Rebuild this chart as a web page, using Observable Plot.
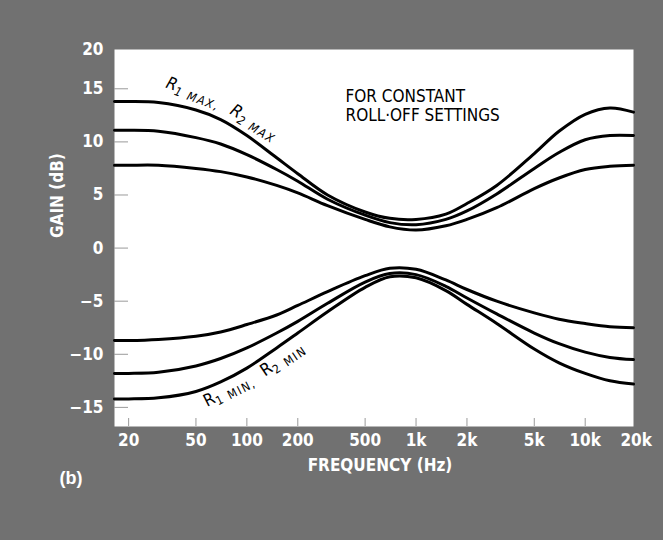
<!DOCTYPE html>
<html><head><meta charset="utf-8">
<script src="https://cdn.jsdelivr.net/npm/d3@7"></script>
<script src="https://cdn.jsdelivr.net/npm/@observablehq/plot@0.6"></script>
<style>
html,body{margin:0;padding:0;background:#717171;}
#chart{width:663px;height:540px;}
</style></head><body><div id="chart"></div>
<script>
// Frequencies (Hz) at which the curves were read
const freqs = [16.5, 20, 30, 50, 70, 100, 150, 200, 300, 500, 700, 1000, 1500, 2000, 3000, 5000, 7000, 10000, 14000, 19300];
// Boost curves (dB)
const boostHigh = [13.8, 13.8, 13.7, 13.0, 12.1, 10.6, 8.5, 7.0, 5.0, 3.4, 2.8, 2.7, 3.2, 4.2, 5.9, 8.9, 11.0, 12.6, 13.2, 12.8];
const boostMid  = [11.1, 11.1, 11.0, 10.4, 9.8, 8.8, 7.4, 6.3, 4.6, 3.1, 2.4, 2.2, 2.7, 3.5, 5.1, 7.5, 9.0, 10.2, 10.6, 10.6];
const boostLow  = [7.8, 7.8, 7.8, 7.5, 7.2, 6.7, 5.9, 5.2, 4.0, 2.7, 2.0, 1.7, 2.1, 2.7, 3.8, 5.6, 6.6, 7.4, 7.7, 7.8];
// Cut curves (dB)
const cutLow    = [-8.7, -8.7, -8.6, -8.3, -7.9, -7.2, -6.3, -5.4, -4.1, -2.6, -1.9, -2.0, -3.0, -3.9, -5.0, -6.1, -6.7, -7.1, -7.4, -7.5];
const cutMid    = [-11.8, -11.8, -11.7, -11.1, -10.4, -9.4, -8.0, -6.9, -5.2, -3.2, -2.4, -2.5, -3.6, -4.7, -6.2, -8.0, -9.0, -9.8, -10.3, -10.5];
const cutHigh   = [-14.2, -14.2, -14.1, -13.5, -12.6, -11.3, -9.4, -8.0, -6.0, -3.7, -2.7, -2.8, -4.0, -5.3, -7.1, -9.5, -10.8, -11.8, -12.5, -12.8];

const xTickValues = [20, 50, 100, 200, 500, 1000, 2000, 5000, 10000];
const xLabelValues = [20, 50, 100, 200, 500, 1000, 2000, 5000, 10000, 20000];
const xLabels = ["20", "50", "100", "200", "500", "1k", "2k", "5k", "10k", "20k"];
const yTickValues = [-15, -10, -5, 0, 5, 10, 15];
const yLabels = ["\u221215", "\u221210", "\u22125", "0", "5", "10", "15", "20"];
const yDomain = [-16.8, 18.7];
const xDomain = [16.5, 19300];
const yLabelValues = [-15, -10, -5, 0, 5, 10, 15, yDomain[1]];
const noteLines = ["FOR CONSTANT", "ROLL\u00B7OFF SETTINGS"];
const noteY = [14.25, 12.45];

const seriesList = [boostHigh, boostMid, boostLow, cutLow, cutMid, cutHigh];
const rows = seriesList.flatMap((s, k) => s.map((v, i) => ({f: freqs[i], g: v, k})));

const xLab = xLabelValues.map((v, i) => ({v, t: xLabels[i]}));
const yLab = yLabelValues.map((v, i) => ({v, t: yLabels[i]}));
const notes = noteLines.map((t, i) => ({t, v: noteY[i]}));

const tickFont = "'Liberation Sans Narrow', 'DejaVu Sans Condensed', 'Roboto', sans-serif";

const plot = Plot.plot({
  width: 663, height: 540,
  marginLeft: 114, marginRight: 30, marginTop: 49, marginBottom: 114,
  style: {background: "transparent", overflow: "visible"},
  x: {type: "log", domain: xDomain},
  y: {domain: yDomain},
  marks: [
    Plot.frame({fill: "white", stroke: "none"}),
    Plot.axisY(yTickValues, {tickSize: 14, dx: 14, tickFormat: () => "", stroke: "#9a9a9a", label: null}),
    Plot.axisX(xTickValues, {tickSize: 8, dy: -8, tickFormat: () => "", stroke: "#9a9a9a", label: null}),
    Plot.text(yLab, {y: "v", text: "t", frameAnchor: "left", dx: -11, textAnchor: "end",
      fill: "white", fontSize: 17, fontWeight: "bold", fontFamily: tickFont}),
    Plot.text(xLab, {x: "v", text: "t", frameAnchor: "bottom", dy: 19,
      fill: "white", fontSize: 17, fontWeight: "bold", fontFamily: tickFont}),
    Plot.text(["FREQUENCY (Hz)"], {frameAnchor: "bottom", dx: 6, dy: 44,
      fill: "white", fontSize: 17, fontWeight: "bold", fontFamily: tickFont}),
    Plot.text(["GAIN (dB)"], {frameAnchor: "left", dx: -57, rotate: -90,
      fill: "white", fontSize: 17, fontWeight: "bold", fontFamily: tickFont}),
    Plot.text(["(b)"], {frameAnchor: "bottom-left", dx: -55, dy: 57, textAnchor: "start",
      fill: "white", fontSize: 18, fontWeight: "bold", fontFamily: "'Liberation Sans', sans-serif", letterSpacing: 3}),
    Plot.text(notes, {x: () => 383, y: "v", text: "t", textAnchor: "start",
      fill: "black", fontSize: 17, fontFamily: tickFont, letterSpacing: 0.7}),
    Plot.line(rows, {x: "f", y: "g", z: "k", stroke: "black", strokeWidth: 3, curve: "catmull-rom"})
  ]
});
document.getElementById("chart").appendChild(plot);

// Rotated annotations with subscripts, placed through the plot scales
const annotations = [
  {f: 33, v: 15.1, angle: 20, italic: true, main: "R", sub: "1 MAX,"},
  {f: 79, v: 12.65, angle: 31, italic: true, main: "R", sub: "2 MAX"},
  {f: 58.5, v: -15.0, angle: -27, italic: false, main: "R", sub: "1 MIN,"},
  {f: 129, v: -12.17, angle: -34, italic: false, main: "R", sub: "2 MIN"}
];
const sx = plot.scale("x"), sy = plot.scale("y");
const svg = d3.select(plot);
for (const a of annotations) {
  const t = svg.append("text")
    .attr("transform", `translate(${sx.apply(a.f)},${sy.apply(a.v)}) rotate(${a.angle})`)
    .attr("text-anchor", "start")
    .attr("font-family", tickFont)
    .attr("font-style", a.italic ? "italic" : "normal")
    .attr("fill", "black");
  t.append("tspan").attr("font-size", 17).text(a.main);
  t.append("tspan").attr("font-size", 12).attr("dy", 4).attr("letter-spacing", 1.5).text(a.sub);
}
</script></body></html>
